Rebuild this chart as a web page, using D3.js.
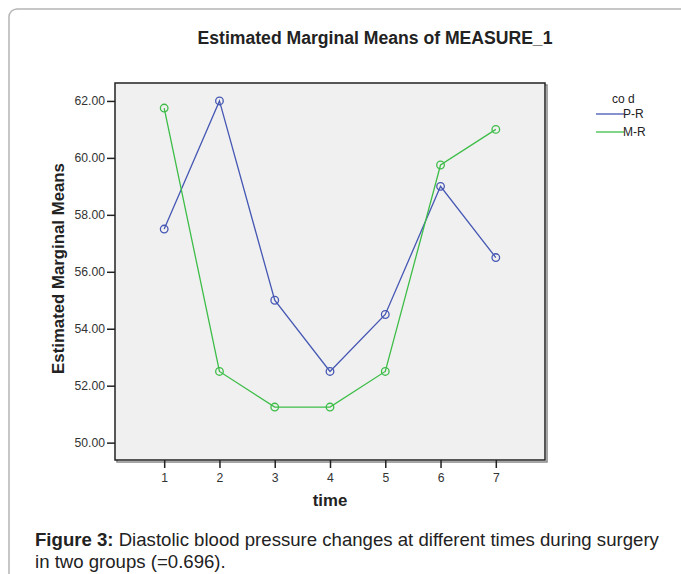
<!doctype html>
<html lang="en">
  <head>
    <meta charset="utf-8">
    <script src="https://d3js.org/d3.v7.min.js"></script>
    <title>Estimated Marginal Means</title>
    <style>
      body { margin: 0; background: #fff; }
      svg text { font-family: "Liberation Sans", Arial, sans-serif; fill: #222; }
      .tick text { font-size: 12.2px; fill: #333; }
      .caption { font-size: 18.6px; fill: #222; }
    </style>
  </head>
  <body>
    <svg width="681" height="574"></svg>
    <script>
      // data
      const times = [1, 2, 3, 4, 5, 6, 7];
      const prValues = [57.5, 62.0, 55.0, 52.5, 54.5, 59.0, 56.5];
      const mrValues = [61.75, 52.5, 51.25, 51.25, 52.5, 59.75, 61.0];
      const yTicks = [50, 52, 54, 56, 58, 60, 62];
      const seriesNames = ["P-R", "M-R"];
      const seriesColors = ["#4557b3", "#3dbd48"];

      const svg = d3.select("svg");

      // outer card frame
      svg.append("rect")
        .attr("x", 9).attr("y", 9)
        .attr("width", 700).attr("height", 600)
        .attr("rx", 8)
        .attr("fill", "none")
        .attr("stroke", "#b5b5b5")
        .attr("stroke-width", 1.5);

      const plot = { left: 115, top: 83, right: 545, bottom: 460 };

      const x = d3.scaleLinear().domain([0.11, 7.89]).range([plot.left, plot.right]);
      const y = d3.scaleLinear().domain([49.39, 62.63]).range([plot.bottom, plot.top]);

      // shadow + plot background
      svg.append("rect")
        .attr("x", plot.left + 2).attr("y", plot.top + 2)
        .attr("width", plot.right - plot.left).attr("height", plot.bottom - plot.top)
        .attr("fill", "none").attr("stroke", "#888").attr("stroke-width", 1.5);
      svg.append("rect")
        .attr("x", plot.left).attr("y", plot.top)
        .attr("width", plot.right - plot.left).attr("height", plot.bottom - plot.top)
        .attr("fill", "#f0f0f0").attr("stroke", "#222").attr("stroke-width", 1.5);

      // axes
      const yAxis = svg.append("g")
        .attr("transform", `translate(${plot.left},0)`)
        .call(d3.axisLeft(y).tickValues(yTicks).tickFormat(d3.format(".2f")).tickSize(8).tickPadding(2));
      const xAxis = svg.append("g")
        .attr("transform", `translate(0,${plot.bottom})`)
        .call(d3.axisBottom(x).tickValues(times).tickFormat(d3.format("d")).tickSize(8).tickPadding(5));
      [yAxis, xAxis].forEach(g => {
        g.select(".domain").remove();
        g.selectAll(".tick line").attr("stroke", "#222").attr("stroke-width", 1.5);
      });

      // lines and open circle markers
      const line = d3.line().x((d, i) => x(times[i])).y(d => y(d));
      [prValues, mrValues].forEach((vals, k) => {
        svg.append("path")
          .datum(vals)
          .attr("d", line)
          .attr("fill", "none")
          .attr("stroke", seriesColors[k])
          .attr("stroke-width", 1.3);
        svg.append("g").selectAll("circle")
          .data(vals)
          .enter().append("circle")
          .attr("cx", (d, i) => x(times[i]))
          .attr("cy", d => y(d))
          .attr("r", 3.8)
          .attr("fill", "none")
          .attr("stroke", seriesColors[k])
          .attr("stroke-width", 1.3);
      });

      // titles
      svg.append("text")
        .attr("x", 375).attr("y", 44)
        .attr("text-anchor", "middle")
        .style("font-size", "17.6px").style("font-weight", "bold")
        .text("Estimated Marginal Means of MEASURE_1");
      svg.append("text")
        .attr("transform", `translate(64,${(plot.top + plot.bottom) / 2 - 3}) rotate(-90)`)
        .attr("text-anchor", "middle")
        .style("font-size", "16.8px").style("font-weight", "bold")
        .text("Estimated Marginal Means");
      svg.append("text")
        .attr("x", 330).attr("y", 506)
        .attr("text-anchor", "middle")
        .style("font-size", "16.8px").style("font-weight", "bold")
        .text("time");

      // legend
      const legend = svg.append("g").attr("transform", "translate(596,0)");
      legend.append("text")
        .attr("x", 16).attr("y", 103)
        .style("font-size", "12px")
        .text("co d");
      seriesNames.forEach((name, k) => {
        const ly = 114 + k * 18;
        legend.append("line")
          .attr("x1", 0).attr("x2", 28)
          .attr("y1", ly).attr("y2", ly)
          .attr("stroke", seriesColors[k]).attr("stroke-width", 1.3);
        legend.append("text")
          .attr("x", 27).attr("y", ly + 4)
          .style("font-size", "12px")
          .text(name);
      });

      // caption
      const cap = svg.append("text").attr("class", "caption").attr("x", 35).attr("y", 546);
      cap.append("tspan").style("font-weight", "bold").text("Figure 3:");
      cap.append("tspan").text(" Diastolic blood pressure changes at different times during surgery");
      svg.append("text").attr("class", "caption")
        .attr("x", 35).attr("y", 568)
        .text("in two groups (=0.696).");
    </script>
  </body>
</html>
